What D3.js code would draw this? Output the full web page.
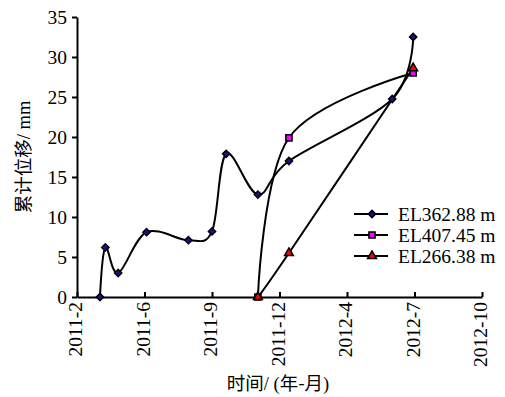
<!DOCTYPE html>
<html><head><meta charset="utf-8">
<script src="https://cdn.jsdelivr.net/npm/d3@7/dist/d3.min.js"></script>
<style>body{margin:0;background:#fff}svg{display:block}
.sf{font-family:"Liberation Serif","Times New Roman",serif}
.cj{font-family:"Noto Sans CJK SC",sans-serif}
</style>
</head><body><svg id="c" width="505" height="397"></svg>
<script>
// ---- data ----
const datesA = ["2011-04-03","2011-04-11","2011-04-30","2011-06-11","2011-08-12","2011-09-16","2011-10-07","2011-11-23","2012-01-08","2012-06-09","2012-07-10"];
const valuesA = [0, 6.2, 3.0, 8.1, 7.1, 8.2, 17.9, 12.8, 17.0, 24.75, 32.5];
const datesB = ["2011-11-23","2012-01-08","2012-07-10"];
const valuesB = [0, 19.9, 28.0];
const datesC = ["2011-11-23","2012-01-08","2012-07-10"];
const valuesC = [0, 5.5, 28.6];
const seriesNames = ["EL362.88 m","EL407.45 m","EL266.38 m"];
const yTicks = [0,5,10,15,20,25,30,35];
const xStart = "2011-02-28", xTickStepDays = 100, xTickCount = 7;

const parse = d3.timeParse("%Y-%m-%d");
const svg = d3.select("#c");
const m = {l:77, r:482, t:17, b:297};
const t0 = parse(xStart);
const xTickVals = d3.range(xTickCount).map(i => d3.timeDay.offset(t0, i*xTickStepDays));
const x = d3.scaleTime().domain([xTickVals[0], xTickVals[xTickVals.length-1]]).range([m.l, m.r]);
const y = d3.scaleLinear().domain([0,35]).range([m.b, m.t]);

// axes
const xAxis = d3.axisBottom(x).tickValues(xTickVals).tickFormat(d3.timeFormat("%Y-%-m")).tickSizeInner(-5).tickSizeOuter(0);
const gx = svg.append("g").attr("transform",`translate(0,${m.b})`).call(xAxis).attr("font-family",null);
gx.select(".domain").attr("stroke","#000").attr("stroke-width",2);
gx.selectAll(".tick line").attr("stroke","#000").attr("stroke-width",2);
gx.selectAll(".tick text").attr("class","sf").style("font-size","19.5px").attr("fill","#000")
  .attr("transform","rotate(-90)").attr("text-anchor","end").attr("x",-5).attr("y",-2).attr("dy","0.35em");

const yAxis = d3.axisLeft(y).tickValues(yTicks).tickSizeInner(5).tickSizeOuter(0).tickPadding(5);
const gy = svg.append("g").attr("transform",`translate(${m.l},0)`).call(yAxis).attr("font-family",null);
gy.select(".domain").attr("stroke","#000").attr("stroke-width",2);
gy.selectAll(".tick line").attr("stroke","#000").attr("stroke-width",2);
gy.selectAll(".tick text").attr("class","sf").style("font-size","19.5px").attr("fill","#000");

// axis titles
const yl = svg.append("text").attr("transform","translate(30,157) rotate(-90)").attr("text-anchor","middle").style("font-size","18.5px").attr("fill","#000");
yl.append("tspan").attr("class","cj").text("累计位移");
yl.append("tspan").attr("class","sf").text("/ mm");
const xl = svg.append("text").attr("x",278).attr("y",390).attr("text-anchor","middle").style("font-size","18.5px").attr("fill","#000");
xl.append("tspan").attr("class","cj").text("时间");
xl.append("tspan").attr("class","sf").text("/ (");
xl.append("tspan").attr("class","cj").text("年-月");
xl.append("tspan").attr("class","sf").text(")");

// series
const mk = (ds, vs) => ds.map((d,i)=>({t:parse(d), v:vs[i]}));
const series = [
  {name:seriesNames[0], data:mk(datesA,valuesA), sym:d3.symbolSquare, size:26, rot:45, fill:"#2a0a8a"},
  {name:seriesNames[1], data:mk(datesB,valuesB), sym:d3.symbolSquare, size:38, rot:0, fill:"#ff00ff"},
  {name:seriesNames[2], data:mk(datesC,valuesC), sym:d3.symbolTriangle, size:34, rot:0, fill:"#ff0000"}
];
const line = d3.line().x(d=>x(d.t)).y(d=>y(d.v)).curve(d3.curveCardinal.tension(0));
series.forEach(s=>{
  svg.append("path").attr("d",line(s.data)).attr("fill","none").attr("stroke","#000").attr("stroke-width",2);
});
series.forEach(s=>{
  svg.append("g").selectAll("path").data(s.data).join("path")
    .attr("transform",d=>`translate(${x(d.t)},${y(d.v)}) rotate(${s.rot})`)
    .attr("d",d3.symbol(s.sym,s.size)).attr("fill",s.fill).attr("stroke","#000").attr("stroke-width",1.5);
});

// legend
const lg = svg.append("g");
series.forEach((s,i)=>{
  const yy = 214 + i*21;
  lg.append("line").attr("x1",354).attr("x2",388).attr("y1",yy).attr("y2",yy).attr("stroke","#000").attr("stroke-width",2);
  lg.append("path").attr("transform",`translate(372,${yy}) rotate(${s.rot})`).attr("d",d3.symbol(s.sym,s.size)).attr("fill",s.fill).attr("stroke","#000").attr("stroke-width",1.5);
  lg.append("text").attr("x",398).attr("y",yy).attr("dy","0.35em").attr("class","sf").style("font-size","19.5px").attr("fill","#000").text(s.name);
});
</script></body></html>
